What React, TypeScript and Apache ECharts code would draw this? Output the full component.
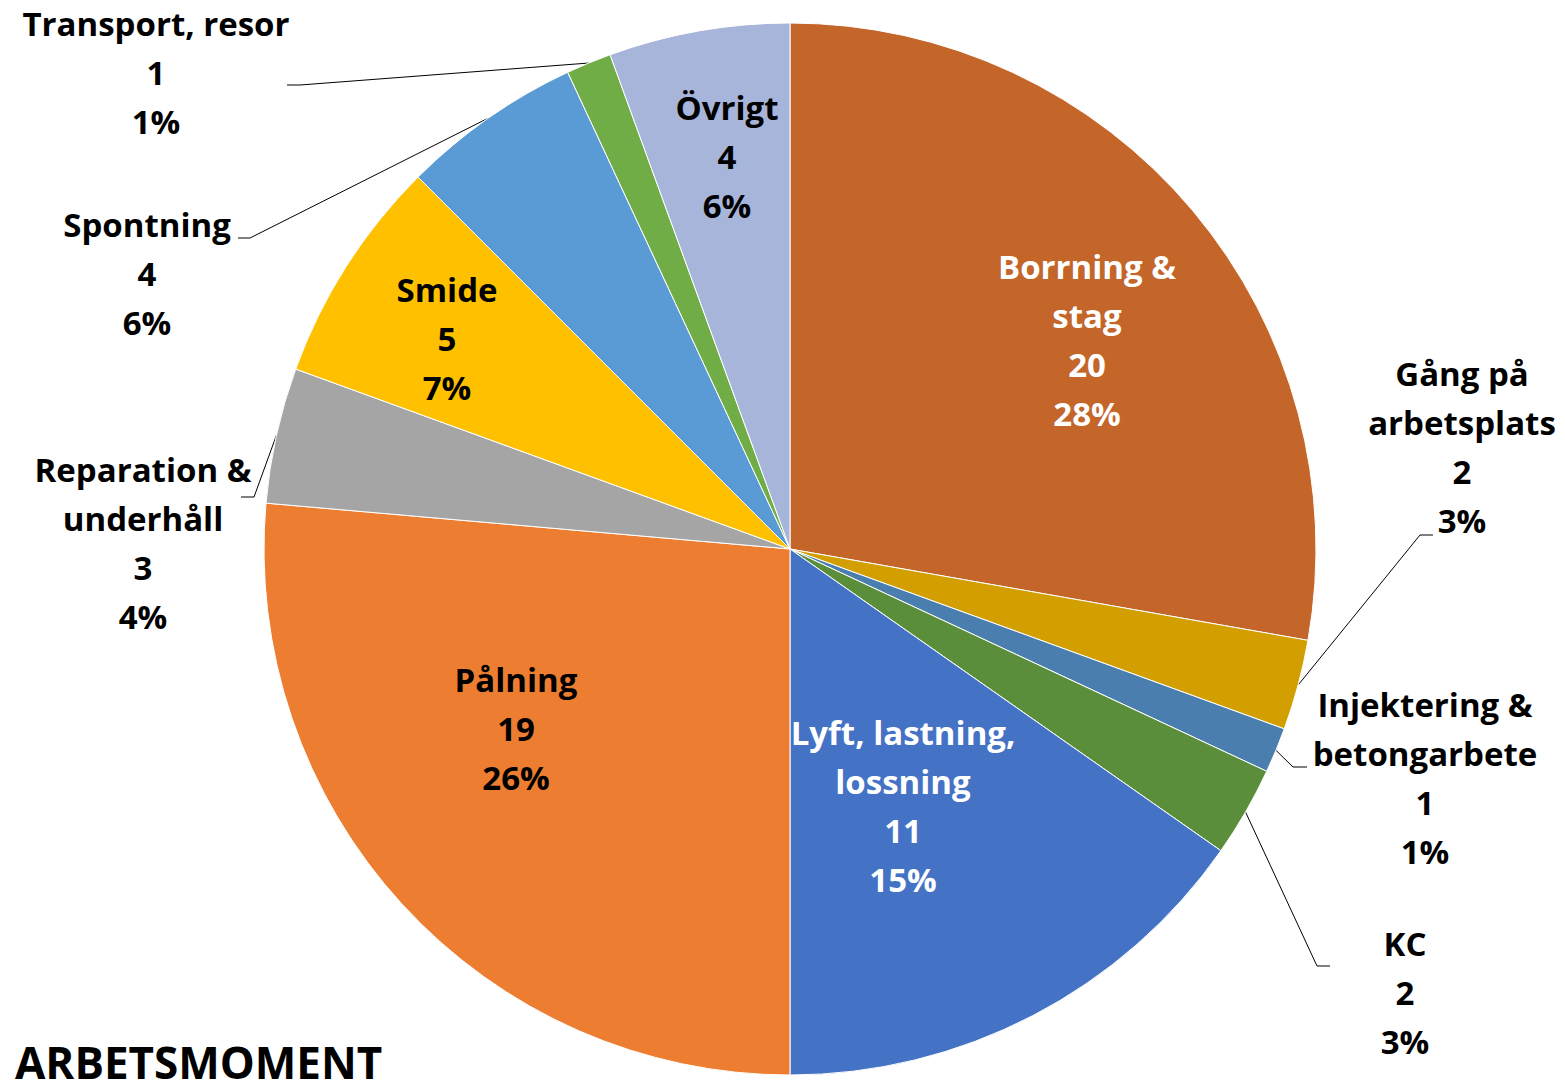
import React, { useEffect, useRef } from 'react';
import * as echarts from 'echarts';

// ---- Data ----
const categories = [
  'Borrning &\nstag',
  'Gång på\narbetsplats',
  'Injektering &\nbetongarbete',
  'KC',
  'Lyft, lastning,\nlossning',
  'Pålning',
  'Reparation &\nunderhåll',
  'Smide',
  'Spontning',
  'Transport, resor',
  'Övrigt',
];
const values = [20, 2, 1, 2, 11, 19, 3, 5, 4, 1, 4];
const chartTitle = 'ARBETSMOMENT';

// ---- Styles / layout (kept apart from data) ----
const sliceColors = [
  '#C4652A', '#D29E00', '#4A7EAF', '#5B8E3A', '#4472C4', '#ED7D31',
  '#A5A5A5', '#FFC000', '#5B9BD5', '#70AD47', '#A8B5DB',
];
const labelInside = [true, false, false, false, true, true, false, true, false, false, true];
const labelColors = ['#FFFFFF', '#000000', '#000000', '#000000', '#FFFFFF', '#000000', '#000000', '#000000', '#000000', '#000000', '#000000'];
const labelCenters: [number, number][] = [
  [1087, 340], [1462, 447], [1425, 778], [1405, 992], [903, 806], [516, 728],
  [143, 543], [447, 338], [147, 273], [156, 72], [727, 156],
];
// elbow point and end point of the leader line near each outside label
const leaderEnds: (number[] | null)[] = [
  null, [1420, 535, 1433, 535], [1293, 767, 1307, 767], [1317, 966, 1330, 966], null, null,
  [254, 497, 241, 497], null, [250, 238, 238, 238], [300, 85, 287, 85], null,
];

const FONT = "'Open Sans', 'Noto Sans', sans-serif";

export default function App() {
  const ref = useRef<HTMLDivElement>(null);
  useEffect(() => {
    document.body.style.margin = '0';
    if (!ref.current) return;
    const chart = echarts.init(ref.current, undefined, { renderer: 'svg' });
    const data = categories.map((name, i) => ({
      name,
      value: values[i],
      itemStyle: { color: sliceColors[i] },
      label: { position: labelInside[i] ? 'inside' : 'outside', color: labelColors[i] },
      labelLine: { show: !labelInside[i] },
    }));
    chart.setOption({
      animation: false,
      backgroundColor: '#FFFFFF',
      title: {
        text: chartTitle,
        left: 15,
        top: 1042,
        padding: 0,
        textStyle: { fontFamily: FONT, fontSize: 44, fontWeight: 'bold', color: '#000', lineHeight: 40 },
      },
      series: [
        {
          type: 'pie',
          center: [790, 549],
          radius: 526,
          startAngle: 90,
          clockwise: true,
          avoidLabelOverlap: false,
          percentPrecision: 0,
          emphasis: { disabled: true },
          itemStyle: { borderColor: '#FFFFFF', borderWidth: 1 },
          label: {
            show: true,
            formatter: '{b}\n{c}\n{d}%',
            fontFamily: FONT,
            fontSize: 33,
            fontWeight: 'bold',
            lineHeight: 49,
            align: 'center',
          },
          labelLine: { show: true, length: 10, length2: 10, lineStyle: { color: '#000', width: 1 } },
          labelLayout: (params: any) => {
            const i = params.dataIndex;
            const [x, y] = labelCenters[i];
            const res: any = { x, y, align: 'center', verticalAlign: 'middle' };
            const e = leaderEnds[i];
            if (e && params.labelLinePoints) {
              res.labelLinePoints = [params.labelLinePoints[0], [e[0], e[1]], [e[2], e[3]]];
            }
            return res;
          },
          data,
        },
      ],
    });
    return () => chart.dispose();
  }, []);
  return <div ref={ref} style={{ width: 1565, height: 1088 }} />;
}
